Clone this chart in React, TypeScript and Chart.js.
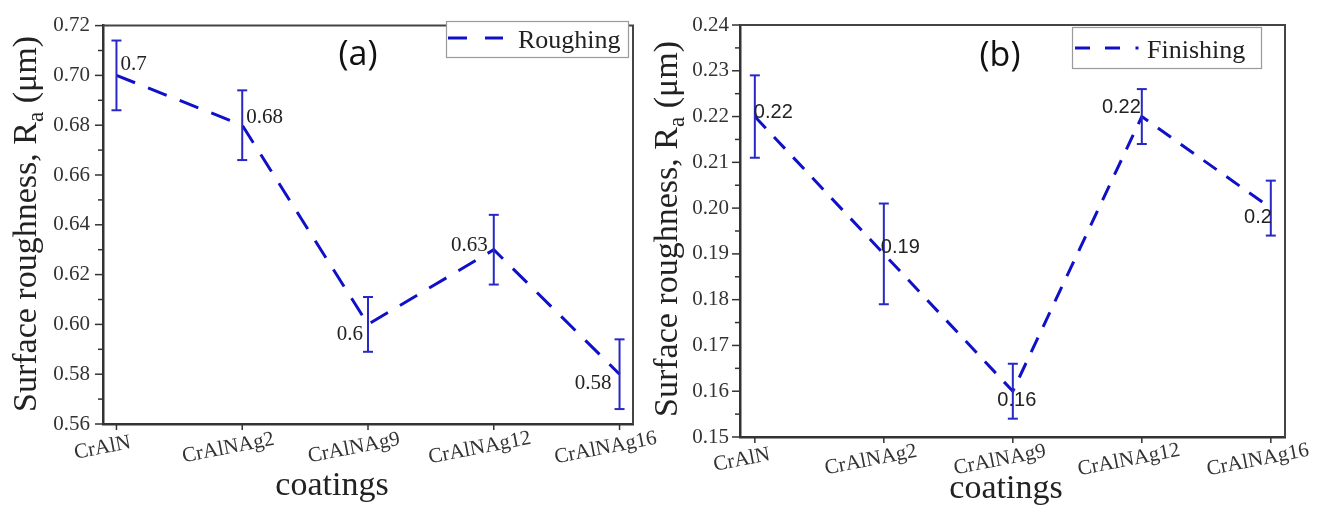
import React, { useEffect, useRef } from "react";
import { Chart, registerables } from "chart.js";

Chart.register(...registerables);

// ---------------- data ----------------
const categories = ["CrAlN", "CrAlNAg2", "CrAlNAg9", "CrAlNAg12", "CrAlNAg16"];

const roughingValues = [0.7, 0.68, 0.6, 0.63, 0.58];
const roughingErrors = [0.014, 0.014, 0.011, 0.014, 0.014];
const roughingLabels = ["0.7", "0.68", "0.6", "0.63", "0.58"];
const roughingTicks = [0.56, 0.58, 0.6, 0.62, 0.64, 0.66, 0.68, 0.7, 0.72];

const finishingValues = [0.22, 0.19, 0.16, 0.22, 0.2];
const finishingErrors = [0.009, 0.011, 0.006, 0.006, 0.006];
const finishingLabels = ["0.22", "0.19", "0.16", "0.22", "0.2"];
const finishingTicks = [0.15, 0.16, 0.17, 0.18, 0.19, 0.2, 0.21, 0.22, 0.23, 0.24];

// ---------------- styling ----------------
const AXIS = "#333333";
const TEXT = "#222222";
const LINE_BLUE = "#1010c8";
const BAR_BLUE = "#2828c6";
const SERIF = '"Liberation Serif", "Times New Roman", serif';
const SANS = '"Liberation Sans", Arial, sans-serif';

type LabelPos = [number, number, CanvasTextAlign];

interface Panel {
  id: string;
  values: number[];
  errors: number[];
  labels: string[];
  ticks: number[];
  legendText: string;
  panelLabel: string;
  canvasLeft: number;
  canvasWidth: number;
  padTop: number;
  padRight: number;
  yWidth: number;
  xHeight: number;
  xMin: number;
  xMax: number;
  tickPadding: number;
  dash: number[];
  labelFont: string;
  labelPos: LabelPos[];
  yTitle: [number, number];
  xTitle: [number, number];
  panelLabelPos: [number, number];
  legendBox: [number, number, number, number];
  legendDashes: [number, number][];
  legendDot: number | null;
  legendLineY: number;
  legendTextPos: [number, number];
  xLabelDx: number;
  xLabelDy: number;
}

const panelA: Panel = {
  id: "a",
  values: roughingValues,
  errors: roughingErrors,
  labels: roughingLabels,
  ticks: roughingTicks,
  legendText: "Roughing",
  panelLabel: "(a)",
  canvasLeft: 0,
  canvasWidth: 700,
  padTop: 19,
  padRight: 67,
  yWidth: 103,
  xHeight: 81,
  xMin: -0.107,
  xMax: 4.107,
  tickPadding: 13,
  dash: [20, 14],
  labelFont: `21px ${SERIF}`,
  labelPos: [
    [4, -11, "left"],
    [4, -8, "left"],
    [-5, 10, "right"],
    [-6, -4, "right"],
    [-8, 9, "right"],
  ],
  yTitle: [36, 224],
  xTitle: [332, 495],
  panelLabelPos: [358, 55],
  legendBox: [446, 21, 182, 36],
  legendDashes: [
    [448, 467],
    [485, 503],
  ],
  legendDot: null,
  legendLineY: 38,
  legendTextPos: [518, 48],
  xLabelDx: -14,
  xLabelDy: 24,
};

const panelB: Panel = {
  id: "b",
  values: finishingValues,
  errors: finishingErrors,
  labels: finishingLabels,
  ticks: finishingTicks,
  legendText: "Finishing",
  panelLabel: "(b)",
  canvasLeft: 645,
  canvasWidth: 677,
  padTop: 25,
  padRight: 37,
  yWidth: 95,
  xHeight: 68,
  xMin: -0.115,
  xMax: 4.11,
  tickPadding: 11,
  dash: [16, 12],
  labelFont: `20px ${SANS}`,
  labelPos: [
    [-1, -4, "left"],
    [-3, -6, "left"],
    [4, 9, "center"],
    [-1, -9, "right"],
    [1, 9, "right"],
  ],
  yTitle: [32, 229],
  xTitle: [361, 498],
  panelLabelPos: [355, 56],
  legendBox: [427, 27, 189, 41],
  legendDashes: [
    [430, 445],
    [460, 475],
  ],
  legendDot: 492,
  legendLineY: 48,
  legendTextPos: [502, 58],
  xLabelDx: -13,
  xLabelDy: 23,
};

function makeDecor(p: Panel) {
  return {
    id: "decor_" + p.id,
    afterDraw(chart: any) {
      const ctx: CanvasRenderingContext2D = chart.ctx;
      const a = chart.chartArea;
      const xs = chart.scales.x;
      const ys = chart.scales.y;
      const line = (x1: number, y1: number, x2: number, y2: number) => {
        ctx.beginPath();
        ctx.moveTo(x1, y1);
        ctx.lineTo(x2, y2);
        ctx.stroke();
      };
      ctx.save();
      ctx.setLineDash([]);

      // frame top / right
      ctx.strokeStyle = "#444444";
      ctx.lineWidth = 2;
      ctx.beginPath();
      ctx.moveTo(a.left, a.top);
      ctx.lineTo(a.right, a.top);
      ctx.lineTo(a.right, a.bottom);
      ctx.stroke();

      // y tick marks (major + minor)
      ctx.strokeStyle = AXIS;
      ctx.lineWidth = 1.5;
      p.ticks.forEach((v, i) => {
        const py = ys.getPixelForValue(v);
        line(a.left - 8, py, a.left, py);
        if (i < p.ticks.length - 1) {
          const pm = ys.getPixelForValue((v + p.ticks[i + 1]) / 2);
          line(a.left - 5, pm, a.left, pm);
        }
      });

      // x tick marks and rotated labels
      categories.forEach((c, i) => {
        const px = xs.getPixelForValue(i);
        ctx.strokeStyle = AXIS;
        ctx.lineWidth = 1.5;
        line(px, a.bottom, px, a.bottom + 6);
        ctx.save();
        ctx.translate(px + p.xLabelDx, a.bottom + p.xLabelDy);
        ctx.rotate((-11 * Math.PI) / 180);
        ctx.font = `21px ${SERIF}`;
        ctx.fillStyle = AXIS;
        ctx.textAlign = "center";
        ctx.textBaseline = "middle";
        ctx.fillText(c, 0, 0);
        ctx.restore();
      });

      // error bars
      ctx.strokeStyle = BAR_BLUE;
      ctx.lineWidth = 2;
      p.values.forEach((v, i) => {
        const px = xs.getPixelForValue(i);
        const yt = ys.getPixelForValue(v + p.errors[i]);
        const yb = ys.getPixelForValue(v - p.errors[i]);
        line(px, yt, px, yb);
        line(px - 5, yt, px + 5, yt);
        line(px - 5, yb, px + 5, yb);
      });

      // value labels
      ctx.font = p.labelFont;
      ctx.fillStyle = TEXT;
      ctx.textBaseline = "middle";
      p.values.forEach((v, i) => {
        const px = xs.getPixelForValue(i);
        const py = ys.getPixelForValue(v);
        const [dx, dy, al] = p.labelPos[i];
        ctx.textAlign = al;
        ctx.fillText(p.labels[i], px + dx, py + dy);
      });

      // y title with subscript
      ctx.save();
      ctx.translate(p.yTitle[0], p.yTitle[1]);
      ctx.rotate(-Math.PI / 2);
      ctx.fillStyle = TEXT;
      ctx.textBaseline = "alphabetic";
      ctx.textAlign = "left";
      const big = `34px ${SERIF}`;
      const small = `23px ${SERIF}`;
      const t1 = "Surface roughness, R";
      const t2 = "a";
      const t3 = " (\u03bcm)";
      ctx.font = big;
      const w1 = ctx.measureText(t1).width;
      const w3 = ctx.measureText(t3).width;
      ctx.font = small;
      const w2 = ctx.measureText(t2).width;
      let sx = -(w1 + w2 + w3) / 2;
      ctx.font = big;
      ctx.fillText(t1, sx, 0);
      sx += w1;
      ctx.font = small;
      ctx.fillText(t2, sx, 7);
      sx += w2;
      ctx.font = big;
      ctx.fillText(t3, sx, 0);
      ctx.restore();

      // x title
      ctx.font = `34px ${SERIF}`;
      ctx.fillStyle = TEXT;
      ctx.textAlign = "center";
      ctx.textBaseline = "alphabetic";
      ctx.fillText("coatings", p.xTitle[0], p.xTitle[1]);

      // panel label
      ctx.font = `34px "Open Sans", ${SANS}`;
      ctx.fillStyle = "#111111";
      ctx.textAlign = "center";
      ctx.textBaseline = "middle";
      ctx.fillText(p.panelLabel, p.panelLabelPos[0], p.panelLabelPos[1]);

      // legend
      const [bx, by, bw, bh] = p.legendBox;
      ctx.fillStyle = "#ffffff";
      ctx.fillRect(bx, by, bw, bh);
      ctx.strokeStyle = "#9a9a9a";
      ctx.lineWidth = 1.2;
      ctx.strokeRect(bx + 0.5, by + 0.5, bw, bh);
      ctx.strokeStyle = LINE_BLUE;
      ctx.lineWidth = 3;
      p.legendDashes.forEach(([x1, x2]) => line(x1, p.legendLineY, x2, p.legendLineY));
      if (p.legendDot !== null) {
        ctx.fillStyle = LINE_BLUE;
        ctx.fillRect(p.legendDot - 1.5, p.legendLineY - 1.5, 3, 3);
      }
      ctx.font = `26px ${SERIF}`;
      ctx.fillStyle = TEXT;
      ctx.textAlign = "left";
      ctx.textBaseline = "alphabetic";
      ctx.fillText(p.legendText, p.legendTextPos[0], p.legendTextPos[1]);

      ctx.restore();
    },
  };
}

function buildConfig(p: Panel): any {
  const yMin = p.ticks[0];
  const yMax = p.ticks[p.ticks.length - 1];
  return {
    type: "line",
    data: {
      datasets: [
        {
          label: p.legendText,
          data: p.values.map((v, i) => ({ x: i, y: v })),
          borderColor: LINE_BLUE,
          backgroundColor: LINE_BLUE,
          borderWidth: 3,
          borderDash: p.dash,
          pointRadius: 0,
          tension: 0,
          fill: false,
        },
      ],
    },
    options: {
      animation: false,
      responsive: false,
      maintainAspectRatio: false,
      devicePixelRatio: 1,
      layout: { padding: { top: p.padTop, right: p.padRight, left: 0, bottom: 0 } },
      plugins: { legend: { display: false }, tooltip: { enabled: false } },
      scales: {
        x: {
          type: "linear",
          min: p.xMin,
          max: p.xMax,
          afterBuildTicks: (s: any) => {
            s.ticks = categories.map((_, i) => ({ value: i }));
          },
          afterFit: (s: any) => {
            s.height = p.xHeight;
          },
          ticks: { display: false },
          grid: { display: false, drawTicks: false },
          border: { display: true, color: AXIS, width: 2.5 },
        },
        y: {
          type: "linear",
          min: yMin,
          max: yMax,
          afterBuildTicks: (s: any) => {
            s.ticks = p.ticks.map((v) => ({ value: v }));
          },
          afterFit: (s: any) => {
            s.width = p.yWidth;
          },
          ticks: {
            callback: (v: any) => Number(v).toFixed(2),
            font: { family: SERIF, size: 21 },
            color: AXIS,
            padding: p.tickPadding,
          },
          grid: { display: false, drawTicks: false },
          border: { display: true, color: AXIS, width: 2.5 },
        },
      },
    },
    plugins: [makeDecor(p)],
  };
}

function PanelChart({ p }: { p: Panel }) {
  const ref = useRef<HTMLCanvasElement | null>(null);
  useEffect(() => {
    if (!ref.current) return;
    const chart = new Chart(ref.current, buildConfig(p));
    return () => chart.destroy();
  }, [p]);
  return (
    <canvas
      ref={ref}
      width={p.canvasWidth}
      height={505}
      style={{
        position: "absolute",
        left: p.canvasLeft,
        top: 0,
        width: p.canvasWidth,
        height: 505,
      }}
    />
  );
}

export default function App() {
  return (
    <div
      style={{
        position: "fixed",
        left: 0,
        top: 0,
        width: 1322,
        height: 505,
        background: "#ffffff",
        overflow: "hidden",
      }}
    >
      <PanelChart p={panelA} />
      <PanelChart p={panelB} />
    </div>
  );
}
